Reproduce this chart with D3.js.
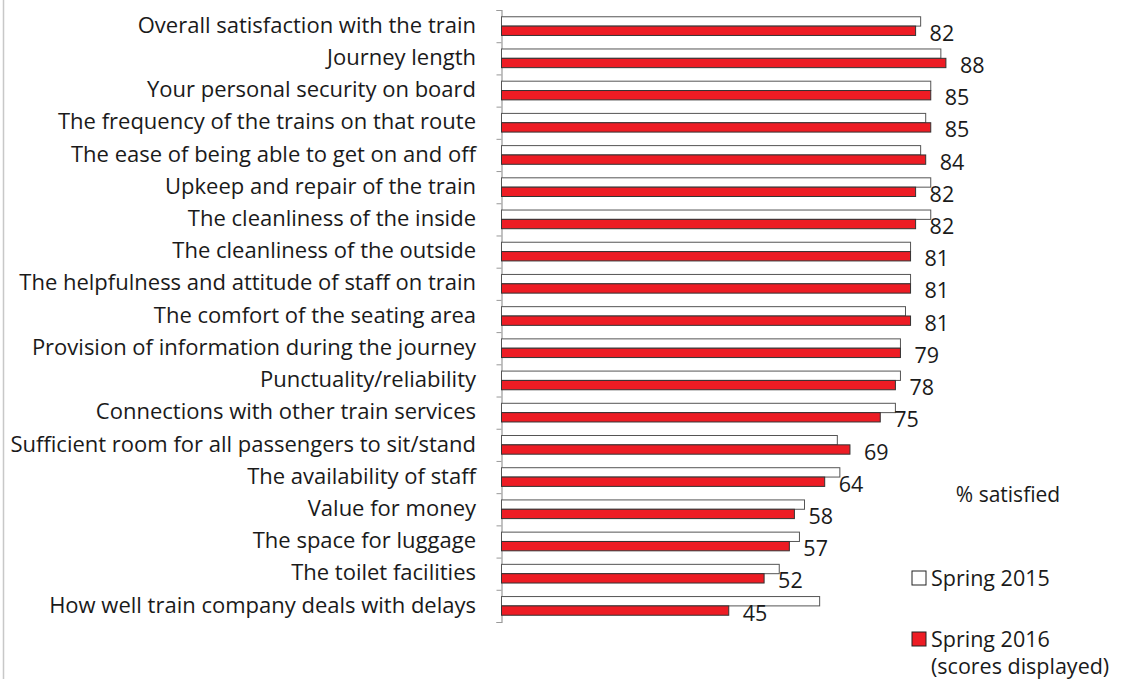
<!DOCTYPE html>
<html>
<head>
<meta charset="utf-8">
<script src="https://cdn.jsdelivr.net/npm/d3@7"></script>
<style>
  body { margin: 0; background: #fff; }
  svg { display: block; font-family: "Open Sans", Lato, sans-serif; }
</style>
</head>
<body>
<svg id="chart"></svg>
<script>
const categories = [
  "Overall satisfaction with the train",
  "Journey length",
  "Your personal security on board",
  "The frequency of the trains on that route",
  "The ease of being able to get on and off",
  "Upkeep and repair of the train",
  "The cleanliness of the inside",
  "The cleanliness of the outside",
  "The helpfulness and attitude of staff on train",
  "The comfort of the seating area",
  "Provision of information during the journey",
  "Punctuality/reliability",
  "Connections with other train services",
  "Sufficient room for all passengers to sit/stand",
  "The availability of staff",
  "Value for money",
  "The space for luggage",
  "The toilet facilities",
  "How well train company deals with delays",
];
const spring2015 = [83, 87, 85, 84, 83, 85, 85, 81, 81, 80, 79, 79, 78, 66.5, 67, 60, 59, 55, 63];
const spring2016 = [82, 88, 85, 85, 84, 82, 82, 81, 81, 81, 79, 78, 75, 69, 64, 58, 57, 52, 45];
const seriesNames = ["Spring 2015", "Spring 2016"];
const legendLabels = [["Spring 2015"], ["Spring 2016", "(scores displayed)"]];
const colors = ["#ffffff", "#ed1c24"];
const strokes = ["#555", "#333"];

const W = 1121, H = 679;
const svg = d3.select("#chart").attr("width", W).attr("height", H);

// chart frame: only the left edge shows
svg.append("line")
  .attr("x1", 3.5).attr("x2", 3.5).attr("y1", 0).attr("y2", H)
  .attr("stroke", "#c8c8c8").attr("stroke-width", 1.5);

const x = d3.scaleLinear().domain([0, 100]).range([501.5, 1006.5]);
const y = d3.scaleBand().domain(categories).range([10, 622])
  .paddingInner(0.42).paddingOuter(0.21);
const ySub = d3.scaleBand().domain(seriesNames).range([0, y.bandwidth()]);

const rows = categories.map((c, i) => ({ cat: c, values: [spring2015[i], spring2016[i]] }));

// category axis
const axis = svg.append("g")
  .attr("transform", `translate(${x(0)},0)`)
  .call(d3.axisLeft(d3.scaleLinear().domain([0, categories.length]).range([10, 622]))
    .ticks(categories.length).tickSize(5).tickFormat(""));
axis.select(".domain").attr("stroke", "#999").attr("stroke-width", 1.2);
axis.selectAll(".tick line").attr("stroke", "#999");

svg.append("g")
  .selectAll("text")
  .data(categories)
  .join("text")
  .attr("x", 476)
  .attr("y", d => y(d) + y.bandwidth() / 2 - 1)
  .attr("dy", "0.35em")
  .attr("text-anchor", "end")
  .attr("fill", "#1a1a1a")
  .style("font-size", "22px")
  .text(d => d);

const groups = svg.append("g")
  .selectAll("g")
  .data(rows)
  .join("g")
  .attr("transform", d => `translate(0,${y(d.cat)})`);

groups.selectAll("rect")
  .data(d => d.values.map((v, i) => ({ s: seriesNames[i], v, i })))
  .join("rect")
  .attr("x", x(0))
  .attr("y", d => ySub(d.s))
  .attr("width", d => x(d.v) - x(0))
  .attr("height", ySub.bandwidth())
  .attr("fill", d => colors[d.i])
  .attr("stroke", d => strokes[d.i])
  .attr("stroke-width", 1);

// data labels for 2016
groups.append("text")
  .attr("x", d => x(d.values[1]) + 14)
  .attr("y", d => ySub(seriesNames[1]) + ySub.bandwidth() / 2 + 2.5)
  .attr("dy", "0.35em")
  .attr("fill", "#1a1a1a")
  .style("font-size", "21.5px")
  .text(d => d.values[1]);

// legend
svg.append("text")
  .attr("x", 1008).attr("y", 495).attr("dy", "0.35em")
  .attr("text-anchor", "middle")
  .attr("fill", "#1a1a1a")
  .style("font-size", "21px")
  .text("% satisfied");

const legend = svg.append("g")
  .selectAll("g")
  .data(legendLabels)
  .join("g")
  .attr("transform", (d, i) => `translate(912,${571 + i * 61})`);

legend.append("rect")
  .attr("width", 14).attr("height", 14)
  .attr("fill", (d, i) => colors[i])
  .attr("stroke", "#222");

legend.selectAll("text")
  .data(d => d)
  .join("text")
  .attr("x", 19)
  .attr("y", (d, j) => 7 + j * 27)
  .attr("dy", "0.35em")
  .attr("fill", "#1a1a1a")
  .style("font-size", "21.5px")
  .text(d => d);
</script>
</body>
</html>
